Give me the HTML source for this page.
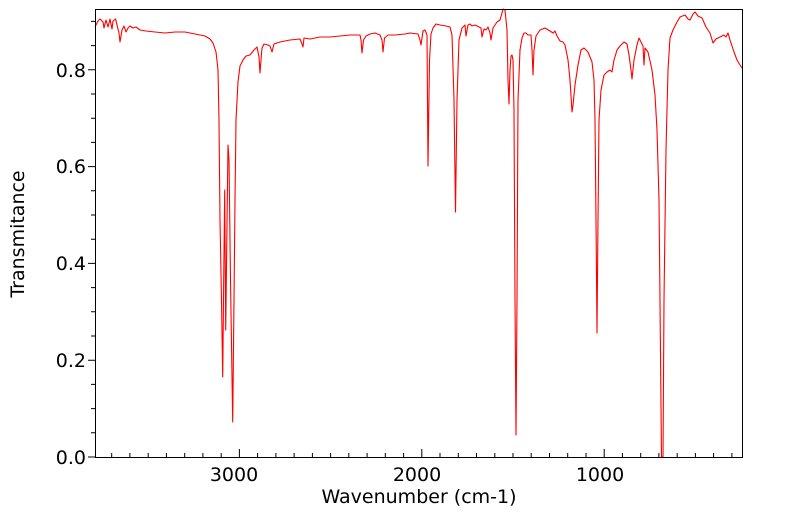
<!DOCTYPE html>
<html><head><meta charset="utf-8"><style>
html,body{margin:0;padding:0;background:#fff;}
svg{display:block;font-family:"DejaVu Sans","Liberation Sans",sans-serif;}
</style></head><body>
<svg width="799" height="516" viewBox="0 0 799 516" xmlns="http://www.w3.org/2000/svg">
<rect width="799" height="516" fill="#fff"/>
<polyline fill="none" stroke="#ff0000" stroke-width="1.1" stroke-linejoin="round" points="
95,27 98,21 100,19 103,22 104,28 106,20 108,27 110,19 112,29 113,21 115.6,19 117,25 119,33 120,42 122,30 124,26 126,32 128,28 130,26 133,28 136,27 140,30 146,31 155,32 165,33 175,32 185,32 195,34 205,36 210,39 213,43 216,52 218,70 219,120 220,220 221.5,300 222.7,377 223.7,280 224.7,190 225.7,330 226.8,240 228,145 229,160 230.5,280 232.7,422 234,300 235,200 236,120 238,82 240,66 243,60 246,56 250,55 254,50 257,47 259,57 260,73 261,60 262,48 264,44 268,45 270,46 272,52 274,44 280,42 290,40 300,39 302,44 303,47 304,38 310,39 320,37 330,37 340,36 350,35 360,35 361,40 362,53 363.5,40 366,36 370,34 375,33 380,35 382,40 383,52 384.5,38 388,35 395,35 405,34 410,33 418,34 420,40 421,45 423,31 425,30 427,35 428,166 429.5,60 431,34 433,28 436,24 440,25 446,26 450,27 452,35 454,100 455.5,212 457,100 459,40 462,28 465,25 466,36 468,25 470,24 472,26 475,25 479,27 481,28 482,37 484,29 486,30 488,27 490,33 491,40 493,28 497,22 500,20 502,13 503,9 505,10 507,30 508,80 509,104 510,70 511,56 512,55 513,60 514,110 515,300 516,435 517,300 518,100 520,50 522,38 524,33 526,33 528,35 531,35 532,50 533,75 534,50 536,36 540,30 545,28 550,31 553,33 555,31 557,36 560,41 563,42 565,45 568,60 570,80 572,112 573,105 575,85 578,65 581,50 584,48 588,52 592,62 594,80 595,120 596,220 597,333 598,220 599,120 601,90 604,75 607,72 610,70 612,72 614,60 617,50 620,46 624,42 627,44 629,55 631,70 632,79 634,60 637,45 639,38 641,42 643,46 644,65 645,48 648,52 652,70 655,95 657,130 659,200 660,300 661.5,457 663,457 664,300 666,150 668,70 670,38 673,30 677,22 680,17 685,15 688,19 690,20 693,14 695,12 698,16 702,18 706,27 710,33 713,43 716,39 720,37 724,35 726,37 728,33 730,40 734,52 737,60 740,65 742,68"/>
<rect x="95.5" y="9.5" width="647" height="448" fill="none" stroke="#000" stroke-width="1"/>
<path stroke="#000" stroke-width="1" fill="none" d="
M88 457H95 M91 432.8H95 M91 408.6H95 M91 384.4H95 M88 360.2H95 M91 336H95 M91 311.8H95 M91 287.6H95 M88 263.4H95 M91 239.2H95 M91 215H95 M91 190.8H95 M88 166.6H95 M91 142.4H95 M91 118.2H95 M91 94H95 M88 69.8H95 M91 45.6H95 M91 21.4H95
M111.7 457V453 M129.9 457V453 M148.2 457V453 M166.4 457V453 M184.7 457V453 M202.9 457V453 M221.2 457V453 M239.4 457V449 M257.6 457V453 M275.9 457V453 M294.1 457V453 M312.4 457V453 M330.6 457V453 M348.8 457V453 M367.1 457V453 M385.3 457V453 M403.6 457V453 M421.8 457V449 M440 457V453 M458.3 457V453 M476.5 457V453 M494.8 457V453 M513 457V453 M531.2 457V453 M549.5 457V453 M567.7 457V453 M586 457V453 M604.2 457V449 M622.4 457V453 M640.7 457V453 M658.9 457V453 M677.2 457V453 M695.4 457V453 M713.6 457V453 M731.9 457V453"/>
<g font-size="19" fill="#000" text-anchor="end">
<text x="86" y="464">0.0</text>
<text x="86" y="367">0.2</text>
<text x="86" y="270">0.4</text>
<text x="86" y="173">0.6</text>
<text x="86" y="77">0.8</text>
</g>
<g font-size="19" fill="#000" text-anchor="middle">
<text x="234" y="481">3000</text>
<text x="417" y="481">2000</text>
<text x="600" y="481">1000</text>
<text x="419" y="503">Wavenumber (cm-1)</text>
<text transform="translate(24,234) rotate(-90)">Transmitance</text>
</g>
</svg>
</body></html>
